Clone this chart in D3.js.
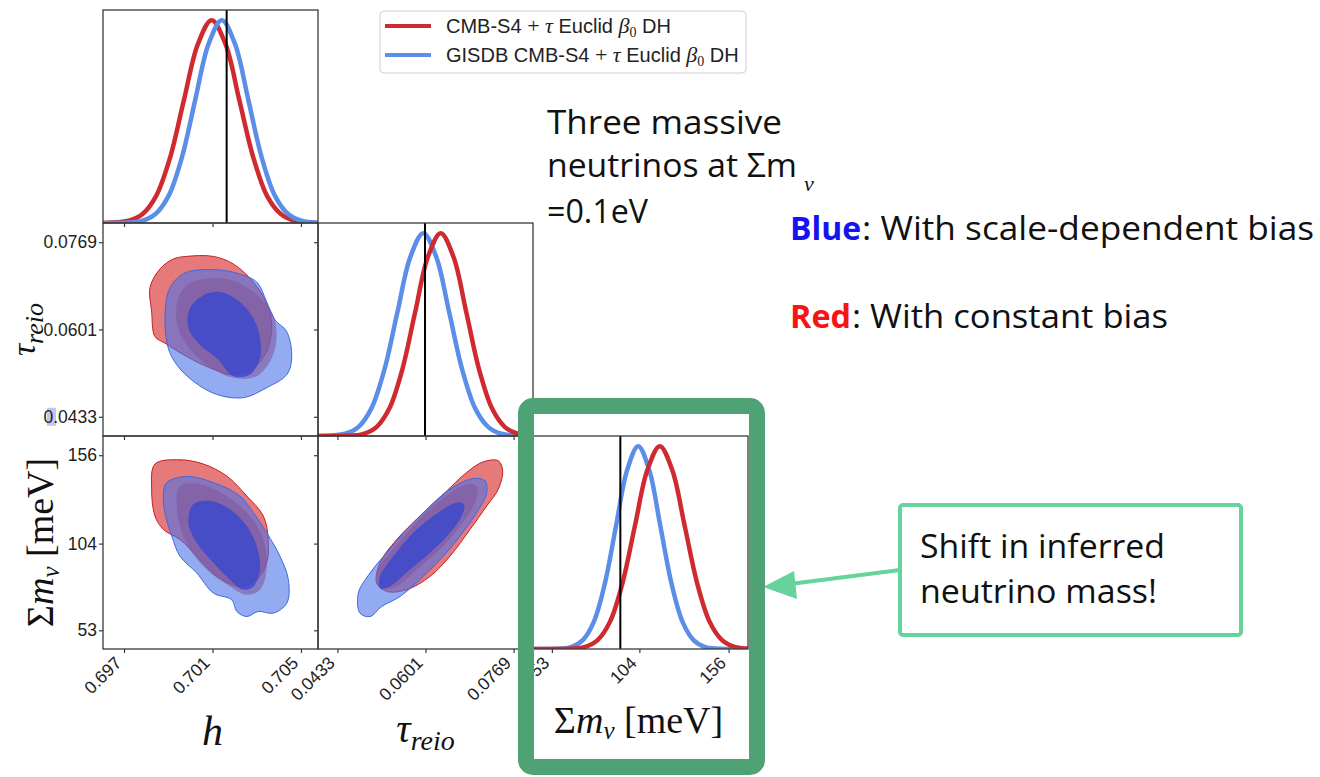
<!DOCTYPE html>
<html><head><meta charset="utf-8">
<script src="https://cdn.jsdelivr.net/npm/d3@7"></script>
<style>body{margin:0;background:#fff;} svg{display:block;}</style>
</head><body><svg id="c" width="1320" height="777"></svg>
<script>
// ---------------- data ----------------
const params = ["h", "tau_reio", "sum_mnu"];
const hDomain = [0.69605, 0.70577];
const tauDomain = [0.0396, 0.0806];
const mnuDomain = [42, 167.3];
const hTicks = [0.697, 0.701, 0.705];
const hTickLabels = ["0.697", "0.701", "0.705"];
const tauTicks = [0.0433, 0.0601, 0.0769];
const tauTickLabels = ["0.0433", "0.0601", "0.0769"];
const mnuTicks = [53, 104, 156];
const mnuTickLabels = ["53", "104", "156"];
const truth = { h: 0.70164, tau: 0.0600, mnu: 92.9 };
const seriesNames = ["CMB-S4 + τ Euclid β0 DH", "GISDB CMB-S4 + τ Euclid β0 DH"];

// 1D marginals: [value, relative density]
const red_h = [[0.69605,0.0005],[0.69721,0.011],[0.69784,0.044],[0.69846,0.135],[0.69909,0.325],[0.69971,0.607],[0.70034,0.882],[0.70096,1.0],[0.70159,0.882],[0.70221,0.607],[0.70284,0.325],[0.70346,0.135],[0.70409,0.044],[0.70471,0.011],[0.70577,0.0006]];
const blue_h = [[0.69605,0.0],[0.69722,0.002],[0.69782,0.011],[0.69842,0.044],[0.69902,0.135],[0.69962,0.325],[0.70022,0.607],[0.70082,0.882],[0.70142,1.0],[0.70202,0.882],[0.70262,0.607],[0.70322,0.325],[0.70382,0.135],[0.70442,0.044],[0.70502,0.011],[0.70577,0.0014]];
const red_tau = [[0.0396,0.0],[0.04585,0.002],[0.04830,0.011],[0.05075,0.044],[0.05320,0.135],[0.05565,0.325],[0.05810,0.607],[0.06055,0.882],[0.06300,1.0],[0.06545,0.882],[0.06790,0.607],[0.07035,0.325],[0.07280,0.135],[0.07525,0.044],[0.07770,0.011],[0.0806,0.0016]];
const blue_tau = [[0.0396,0.0003],[0.04480,0.011],[0.04728,0.044],[0.04976,0.135],[0.05224,0.325],[0.05472,0.607],[0.05720,0.882],[0.05968,1.0],[0.06216,0.882],[0.06464,0.607],[0.06712,0.325],[0.06960,0.135],[0.07208,0.044],[0.07456,0.011],[0.07704,0.002],[0.0806,0.0001]];
const red_mnu = [[42,0.0],[65.15,0.002],[72.4,0.011],[79.65,0.044],[86.9,0.135],[94.15,0.325],[101.4,0.607],[108.65,0.882],[115.9,1.0],[123.15,0.882],[130.4,0.607],[137.65,0.325],[144.9,0.135],[152.15,0.044],[159.4,0.011],[167.3,0.0019]];
const blue_mnu = [[42,0.0],[58.15,0.002],[64.6,0.011],[71.05,0.044],[77.5,0.135],[83.95,0.325],[90.4,0.607],[96.85,0.882],[103.3,1.0],[109.75,0.882],[116.2,0.607],[122.65,0.325],[129.1,0.135],[135.55,0.044],[142.0,0.011],[148.45,0.002],[167.3,0.0]];

// 2D contours (68% inner, 95% outer)
const redOuter_hTau = [[0.69983,0.07417],[0.70104,0.07417],[0.70194,0.07272],[0.70285,0.06922],[0.70345,0.06510],[0.70368,0.06096],[0.70345,0.05587],[0.70285,0.05270],[0.70194,0.05142],[0.70089,0.05270],[0.69983,0.05491],[0.69885,0.05747],[0.69840,0.05873],[0.69825,0.06349],[0.69818,0.06826],[0.69863,0.07177],[0.69923,0.07368]];
const redInner_hTau = [[0.70029,0.06954],[0.70164,0.06986],[0.70285,0.06731],[0.70368,0.06349],[0.70390,0.05905],[0.70368,0.05461],[0.70300,0.05110],[0.70194,0.05079],[0.70074,0.05333],[0.69983,0.05714],[0.69938,0.06159],[0.69945,0.06605],[0.69983,0.06859]];
const blueOuter_hTau = [[0.69983,0.07112],[0.70074,0.07164],[0.70194,0.07112],[0.70300,0.06922],[0.70345,0.06540],[0.70383,0.06191],[0.70436,0.05968],[0.70458,0.05461],[0.70436,0.05142],[0.70345,0.04889],[0.70239,0.04698],[0.70119,0.04761],[0.70013,0.05015],[0.69938,0.05333],[0.69900,0.05652],[0.69885,0.06159],[0.69900,0.06731],[0.69938,0.06986]];
const blueInner_hTau = [[0.70059,0.06668],[0.70134,0.06731],[0.70224,0.06540],[0.70285,0.06224],[0.70315,0.05842],[0.70315,0.05461],[0.70270,0.05142],[0.70194,0.05110],[0.70119,0.05461],[0.70044,0.05714],[0.69991,0.06033],[0.69998,0.06414]];

const redOuter_hMnu = [[0.69840,150.8],[0.69953,153.3],[0.70059,150.8],[0.70164,143.8],[0.70255,132.0],[0.70330,120.2],[0.70352,106.4],[0.70345,92.7],[0.70300,82.8],[0.70224,78.8],[0.70119,84.7],[0.70029,96.6],[0.69953,106.4],[0.69878,112.3],[0.69840,120.2],[0.69825,136.0]];
const redInner_hMnu = [[0.69953,137.9],[0.70044,138.9],[0.70164,132.0],[0.70270,120.2],[0.70330,106.4],[0.70345,88.7],[0.70315,76.9],[0.70255,73.9],[0.70179,78.8],[0.70074,88.7],[0.69998,100.5],[0.69953,114.3],[0.69938,128.1]];
const blueOuter_hMnu = [[0.69893,139.9],[0.69983,143.5],[0.70104,139.9],[0.70224,132.0],[0.70285,122.2],[0.70345,110.4],[0.70405,96.6],[0.70443,82.8],[0.70436,69.0],[0.70375,63.1],[0.70307,64.1],[0.70255,61.1],[0.70210,64.1],[0.70187,71.0],[0.70104,74.9],[0.70029,86.7],[0.69953,96.6],[0.69916,108.4],[0.69885,122.2],[0.69878,134.0]];
const blueInner_hMnu = [[0.70013,127.1],[0.70089,129.1],[0.70179,124.2],[0.70255,114.3],[0.70300,102.5],[0.70315,88.7],[0.70285,78.8],[0.70239,76.9],[0.70179,82.8],[0.70104,92.7],[0.70029,104.5],[0.69991,116.3]];

const redOuter_tauMnu = [[0.06796,145.9],[0.07112,152.1],[0.07398,152.7],[0.07482,146.8],[0.07398,136.0],[0.07177,126.1],[0.06859,112.3],[0.06477,96.6],[0.06096,84.7],[0.05652,76.9],[0.05270,75.9],[0.05079,80.8],[0.05142,92.7],[0.05461,106.4],[0.05905,120.2],[0.06350,133.0]];
const redInner_tauMnu = [[0.06796,138.9],[0.06986,137.9],[0.06954,128.1],[0.06668,114.3],[0.06287,100.5],[0.05842,88.7],[0.05461,78.8],[0.05175,77.9],[0.05079,86.7],[0.05333,98.6],[0.05714,112.3],[0.06159,126.1],[0.06540,135.0]];
const blueOuter_tauMnu = [[0.06922,142.3],[0.07145,140.9],[0.07177,134.0],[0.06986,122.2],[0.06668,108.4],[0.06350,96.6],[0.05968,84.7],[0.05524,72.9],[0.05175,67.0],[0.04952,61.1],[0.04761,63.1],[0.04729,74.9],[0.04952,86.7],[0.05270,98.6],[0.05652,112.3],[0.06033,124.2],[0.06477,136.0]];
const blueInner_tauMnu = [[0.06605,128.1],[0.06744,127.1],[0.06700,120.2],[0.06477,110.4],[0.06096,98.6],[0.05714,88.7],[0.05333,78.8],[0.05142,77.9],[0.05142,84.7],[0.05396,96.6],[0.05714,108.4],[0.06159,120.2]];

// ---------------- styles ----------------
const RED = "#cf2a30", BLUE = "#5b8ee8";
const redFill = "#d62728", blueFill = "#4a73e8", blueInnerFill = "#3346d0";
const tickFont = "'Liberation Sans', Arial, sans-serif";
const mathFont = "'Liberation Serif', 'Times New Roman', serif";
const slideFont = "'Open Sans', 'Lato', sans-serif";

const svg = d3.select("#c");
const X0 = 103, Y0 = 10, PW = 215, PH = 213;
const colL = i => X0 + i * PW, rowT = j => Y0 + j * PH;

const hX = d3.scaleLinear().domain(hDomain).range([colL(0), colL(0) + PW]);
const tauX = d3.scaleLinear().domain(tauDomain).range([colL(1), colL(1) + PW]);
const mnuX = d3.scaleLinear().domain(mnuDomain).range([colL(2), colL(2) + PW]);
const tauY = d3.scaleLinear().domain(tauDomain).range([rowT(1) + PH, rowT(1)]);
const mnuY = d3.scaleLinear().domain(mnuDomain).range([rowT(2) + PH, rowT(2)]);
const densY = j => d3.scaleLinear().domain([0, 1.05]).range([rowT(j) + PH, rowT(j)]);

const defs = svg.append("defs");
function clipFor(id, c, r) {
  defs.append("clipPath").attr("id", id).append("rect")
    .attr("x", colL(c)).attr("y", rowT(r)).attr("width", PW).attr("height", PH);
  return `url(#${id})`;
}

// selection highlight on the first character of the lowest tau label
svg.append("rect").attr("x", 47).attr("y", tauY(tauTicks[0]) - 9).attr("width", 9).attr("height", 18)
  .attr("fill", "#c4c4f2");

// ---------- 1D panels ----------
function panel1D(c, r, xs, redData, blueData, t) {
  const ys = densY(r);
  const g = svg.append("g").attr("clip-path", clipFor(`cp${c}${r}`, c, r));
  const line = d3.line().x(d => xs(d[0])).y(d => ys(d[1])).curve(d3.curveCatmullRom.alpha(0.5));
  const order = (c === 0) ? [[redData, RED], [blueData, BLUE]] : [[blueData, BLUE], [redData, RED]];
  order.forEach(([d, col]) => g.append("path").datum(d).attr("d", line)
    .attr("fill", "none").attr("stroke", col).attr("stroke-width", 4.5).attr("stroke-linejoin", "round"));
  g.append("line").attr("x1", xs(t)).attr("x2", xs(t)).attr("y1", rowT(r)).attr("y2", rowT(r) + PH)
    .attr("stroke", "#000").attr("stroke-width", 2);
}
panel1D(0, 0, hX, red_h, blue_h, truth.h);
panel1D(1, 1, tauX, red_tau, blue_tau, truth.tau);
panel1D(2, 2, mnuX, red_mnu, blue_mnu, truth.mnu);

// ---------- 2D panels ----------
function panel2D(c, r, xs, ys, ro, ri, bo, bi) {
  const g = svg.append("g").attr("clip-path", clipFor(`cq${c}${r}`, c, r));
  const area = d3.line().x(d => xs(d[0])).y(d => ys(d[1])).curve(d3.curveCatmullRomClosed.alpha(0.5));
  g.append("path").datum(ro).attr("d", area).attr("fill", redFill).attr("fill-opacity", 0.62)
    .attr("stroke", "#c41e26").attr("stroke-width", 1);
  g.append("path").datum(ri).attr("d", area).attr("fill", redFill).attr("fill-opacity", 0.55);
  g.append("path").datum(bo).attr("d", area).attr("fill", blueFill).attr("fill-opacity", 0.6)
    .attr("stroke", "#3f68e0").attr("stroke-width", 1);
  g.append("path").datum(bi).attr("d", area).attr("fill", blueInnerFill).attr("fill-opacity", 0.75);
}
panel2D(0, 1, hX, tauY, redOuter_hTau, redInner_hTau, blueOuter_hTau, blueInner_hTau);
panel2D(0, 2, hX, mnuY, redOuter_hMnu, redInner_hMnu, blueOuter_hMnu, blueInner_hMnu);
panel2D(1, 2, tauX, mnuY, redOuter_tauMnu, redInner_tauMnu, blueOuter_tauMnu, blueInner_tauMnu);

// ---------- frames & ticks ----------
const panels = [[0,0],[0,1],[1,1],[0,2],[1,2],[2,2]];
panels.forEach(([c, r]) => svg.append("rect").attr("x", colL(c)).attr("y", rowT(r))
  .attr("width", PW).attr("height", PH).attr("fill", "none").attr("stroke", "#3a3a3a").attr("stroke-width", 1.3));

function styleAxis(g) {
  g.select(".domain").remove();
  g.selectAll(".tick line").attr("stroke", "#3a3a3a").attr("stroke-width", 1.2);
  g.selectAll("text").attr("font-family", tickFont).attr("font-size", 17.5).attr("fill", "#222");
}
function xAxis(scale, vals, labels, r) {
  const g = svg.append("g").attr("transform", `translate(0,${rowT(r) + PH})`)
    .call(d3.axisBottom(scale).tickValues(vals).tickSize(4).tickSizeOuter(0)
      .tickFormat(labels ? (d, i) => labels[i] : () => ""));
  styleAxis(g);
  if (labels) g.selectAll("text").attr("y", 0).attr("dy", 0).attr("text-anchor", "end")
    .attr("transform", "translate(-2,15) rotate(-45)");
}
function yAxis(scale, vals, labels, c) {
  const g = svg.append("g").attr("transform", `translate(${colL(c)},0)`)
    .call(d3.axisLeft(scale).tickValues(vals).tickSize(4).tickSizeOuter(0)
      .tickFormat(labels ? (d, i) => labels[i] : () => ""));
  styleAxis(g);
  if (labels) g.selectAll("text").attr("x", -6);
}
xAxis(hX, hTicks, null, 0);
xAxis(hX, hTicks, null, 1);
xAxis(hX, hTicks, hTickLabels, 2);
xAxis(tauX, tauTicks, null, 1);
xAxis(tauX, tauTicks, tauTickLabels, 2);
xAxis(mnuX, mnuTicks, mnuTickLabels, 2);
yAxis(tauY, tauTicks, tauTickLabels, 0);
yAxis(tauY, tauTicks, null, 1);
yAxis(mnuY, mnuTicks, mnuTickLabels, 0);
yAxis(mnuY, mnuTicks, null, 1);
yAxis(mnuY, mnuTicks, null, 2);

// ---------- axis titles ----------
function tauLabel(t, big, small) {
  t.append("tspan").text("τ").attr("font-size", big).attr("font-style", "italic");
  t.append("tspan").text("reio").attr("font-size", small).attr("font-style", "italic").attr("dy", 8);
}
function mnuLabel(t) {
  t.append("tspan").text("Σ").attr("font-size", 38);
  t.append("tspan").text("m").attr("font-size", 38).attr("font-style", "italic");
  t.append("tspan").text("ν").attr("font-size", 25).attr("font-style", "italic").attr("dy", 6);
  t.append("tspan").text(" [meV]").attr("font-size", 38).attr("dy", -6);
}
svg.append("text").attr("x", colL(0) + PW / 2 + 2).attr("y", 745).attr("text-anchor", "middle")
  .attr("font-family", mathFont).attr("font-style", "italic").attr("font-size", 42).attr("fill", "#111").text("h");
tauLabel(svg.append("text").attr("x", colL(1) + PW / 2).attr("y", 742).attr("text-anchor", "middle")
  .attr("font-family", mathFont).attr("fill", "#111"), 40, 28);
mnuLabel(svg.append("text").attr("x", colL(2) + PW / 2 - 2).attr("y", 733).attr("text-anchor", "middle")
  .attr("font-family", mathFont).attr("fill", "#111"));
tauLabel(svg.append("text").attr("transform", `translate(35,${rowT(1) + PH / 2}) rotate(-90)`)
  .attr("text-anchor", "middle").attr("font-family", mathFont).attr("fill", "#111"), 34, 26);
mnuLabel(svg.append("text").attr("transform", `translate(53,${rowT(2) + PH / 2}) rotate(-90)`)
  .attr("text-anchor", "middle").attr("font-family", mathFont).attr("fill", "#111"));

// ---------- legend ----------
const lg = svg.append("g");
lg.append("rect").attr("x", 380).attr("y", 11).attr("width", 366).attr("height", 62).attr("rx", 4)
  .attr("fill", "#fff").attr("stroke", "#d0d0d0").attr("stroke-width", 1);
[[RED, 26, 33, false], [BLUE, 55, 62, true]].forEach(([col, ly, ty, gis]) => {
  lg.append("line").attr("x1", 385).attr("x2", 431).attr("y1", ly).attr("y2", ly)
    .attr("stroke", col).attr("stroke-width", 4);
  const t = lg.append("text").attr("x", 446).attr("y", ty).attr("font-family", tickFont)
    .attr("font-size", 20).attr("fill", "#222");
  t.append("tspan").text((gis ? "GISDB " : "") + "CMB-S4 ");
  t.append("tspan").text("+").attr("font-family", mathFont).attr("font-size", 22);
  t.append("tspan").text(" τ").attr("font-family", mathFont).attr("font-style", "italic").attr("font-size", 22);
  t.append("tspan").text(" Euclid ");
  t.append("tspan").text("β").attr("font-family", mathFont).attr("font-style", "italic").attr("font-size", 22);
  t.append("tspan").text("0").attr("font-family", mathFont).attr("font-size", 14).attr("dy", 4);
  t.append("tspan").text(" DH").attr("dy", -4);
});

// ---------- slide annotations ----------
function slideText(x, y, str, w, opts = {}) {
  return svg.append("text").attr("x", x).attr("y", y).attr("font-family", slideFont)
    .attr("font-size", 32).attr("fill", opts.fill || "#111").attr("font-weight", opts.bold ? 700 : 400)
    .attr("textLength", w).attr("lengthAdjust", "spacingAndGlyphs").text(str);
}
slideText(547, 134, "Three massive", 235);
slideText(547, 177, "neutrinos at Σm", 250);
svg.append("text").attr("x", 804).attr("y", 191).attr("font-family", mathFont).attr("font-style", "italic")
  .attr("font-size", 22).attr("fill", "#111").text("ν");
slideText(547, 223, "=0.1eV", 101);
slideText(790, 240, "Blue", 71, { bold: true, fill: "#1414f0" });
slideText(862, 240, ": With scale-dependent bias", 452);
slideText(790, 328, "Red", 61, { bold: true, fill: "#f81414" });
slideText(852, 328, ": With constant bias", 316);

// callout box + arrow
const GREEN_LIGHT = "#66d39a", GREEN_DARK = "#4ea274";
svg.append("line").attr("x1", 900).attr("y1", 570).attr("x2", 790).attr("y2", 584)
  .attr("stroke", GREEN_LIGHT).attr("stroke-width", 4);
svg.append("polygon").attr("points", "763,587 794,571 797,599").attr("fill", GREEN_LIGHT);
svg.append("rect").attr("x", 900).attr("y", 505).attr("width", 341).attr("height", 130).attr("rx", 3)
  .attr("fill", "#fff").attr("stroke", GREEN_LIGHT).attr("stroke-width", 4);
slideText(920, 558, "Shift in inferred", 245);
slideText(920, 603, "neutrino mass!", 237);

// highlight box around the Σmν marginal
svg.append("rect").attr("x", 526).attr("y", 406).attr("width", 231).attr("height", 361).attr("rx", 7)
  .attr("fill", "none").attr("stroke", GREEN_DARK).attr("stroke-width", 16);
</script></body></html>
